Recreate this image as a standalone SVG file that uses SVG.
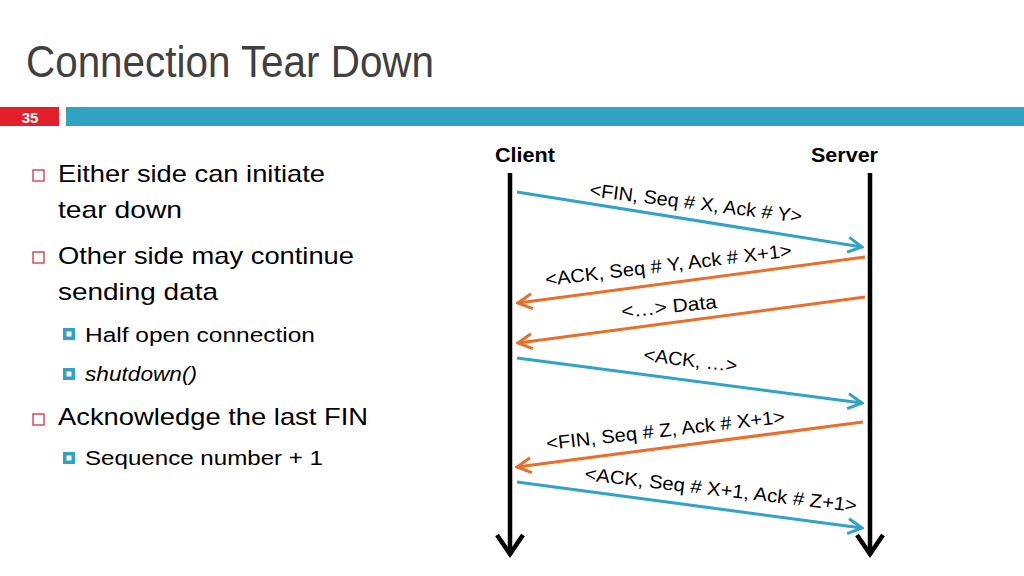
<svg xmlns="http://www.w3.org/2000/svg" width="1024" height="576" viewBox="0 0 1024 576">
<style>
text{font-family:"Liberation Sans",Arial,sans-serif;}
.title{font-size:44px;fill:#404040;}
.b1{font-size:24px;fill:#000;}
.b2{font-size:20px;fill:#000;}
.hdr{font-size:20px;font-weight:bold;fill:#000;}
.lbl{font-size:19px;fill:#000;}
.life{stroke:#000;stroke-width:4.5;fill:none;}
.blue{stroke:#31A3C6;stroke-width:3;fill:none;}
.orange{stroke:#E8702A;stroke-width:3;fill:none;}
.sq1{fill:none;stroke:#D9303A;stroke-width:1.3;}
.sq2{fill:#2FA3C1;}
</style>
<defs>
<marker id="mb" markerUnits="userSpaceOnUse" viewBox="0 0 18 18" refX="16" refY="9" markerWidth="18" markerHeight="18" orient="auto">
<path d="M2,1.5 L16,9 L2,16.5" fill="none" stroke="#31A3C6" stroke-width="3" stroke-linejoin="miter"/>
</marker>
<marker id="mo" markerUnits="userSpaceOnUse" viewBox="0 0 18 18" refX="16" refY="9" markerWidth="18" markerHeight="18" orient="auto">
<path d="M2,1.5 L16,9 L2,16.5" fill="none" stroke="#E8702A" stroke-width="3" stroke-linejoin="miter"/>
</marker>
</defs>
<rect width="1024" height="576" fill="#fff"/>
<g id="header">
<text class="title" x="26" y="77" textLength="408" lengthAdjust="spacingAndGlyphs">Connection Tear Down</text>
<rect x="0" y="107" width="59" height="19" fill="#E2202C"/>
<rect x="66" y="107" width="958" height="19" fill="#2FA3C1"/>
<text x="30" y="122.5" font-size="15" font-weight="bold" fill="#fff" text-anchor="middle">35</text>
</g>
<g id="bullets">
<rect class="sq1" x="33" y="170" width="11" height="11"/>
<text class="b1" x="58" y="182" textLength="267" lengthAdjust="spacingAndGlyphs">Either side can initiate</text>
<text class="b1" x="58" y="218" textLength="124" lengthAdjust="spacingAndGlyphs">tear down</text>
<rect class="sq1" x="33" y="252" width="11" height="11"/>
<text class="b1" x="58" y="264" textLength="296" lengthAdjust="spacingAndGlyphs">Other side may continue</text>
<text class="b1" x="58" y="300" textLength="160" lengthAdjust="spacingAndGlyphs">sending data</text>
<rect class="sq2" x="63" y="328" width="12" height="12"/><rect x="66.5" y="331.5" width="5" height="5" fill="#fff"/>
<text class="b2" x="85" y="342" textLength="230" lengthAdjust="spacingAndGlyphs">Half open connection</text>
<rect class="sq2" x="63" y="368" width="12" height="12"/><rect x="66.5" y="371.5" width="5" height="5" fill="#fff"/>
<text class="b2" x="85" y="381" font-style="italic" textLength="112" lengthAdjust="spacingAndGlyphs">shutdown()</text>
<rect class="sq1" x="33" y="414" width="11" height="11"/>
<text class="b1" x="58" y="425" textLength="310" lengthAdjust="spacingAndGlyphs">Acknowledge the last FIN</text>
<rect class="sq2" x="63" y="452" width="12" height="12"/><rect x="66.5" y="455.5" width="5" height="5" fill="#fff"/>
<text class="b2" x="85" y="465" textLength="238" lengthAdjust="spacingAndGlyphs">Sequence number + 1</text>
</g>
<g id="client">
<text class="hdr" x="495" y="162" textLength="60" lengthAdjust="spacingAndGlyphs">Client</text>
<path class="life" d="M510,173 V555"/>
<path class="life" d="M497,535 L510,554 L523,535" stroke-width="5"/>
</g>
<g id="server">
<text class="hdr" x="811" y="162" textLength="67" lengthAdjust="spacingAndGlyphs">Server</text>
<path class="life" d="M870,173 V555"/>
<path class="life" d="M857,535 L870,554 L883,535" stroke-width="5"/>
</g>
<g id="connectors">
<line class="blue" x1="517" y1="192" x2="862" y2="247" marker-end="url(#mb)"/>
<line class="orange" x1="865" y1="257" x2="518" y2="303" marker-end="url(#mo)"/>
<line class="orange" x1="865" y1="297" x2="518" y2="343" marker-end="url(#mo)"/>
<line class="blue" x1="517" y1="358" x2="862" y2="403" marker-end="url(#mb)"/>
<line class="orange" x1="863" y1="422" x2="517" y2="467" marker-end="url(#mo)"/>
<line class="blue" x1="517" y1="482" x2="862" y2="528" marker-end="url(#mb)"/>
</g>
<g id="labels">
<text class="lbl" transform="translate(589,196) rotate(7.2)" textLength="214" lengthAdjust="spacingAndGlyphs">&lt;FIN, Seq # X, Ack # Y&gt;</text>
<text class="lbl" transform="translate(546,286) rotate(-6.8)" textLength="248" lengthAdjust="spacingAndGlyphs">&lt;ACK, Seq # Y, Ack # X+1&gt;</text>
<text class="lbl" transform="translate(622,318) rotate(-6)" textLength="96" lengthAdjust="spacingAndGlyphs">&lt;…&gt; Data</text>
<text class="lbl" transform="translate(643,361) rotate(6.8)" textLength="94" lengthAdjust="spacingAndGlyphs">&lt;ACK, …&gt;</text>
<text class="lbl" transform="translate(547,450) rotate(-6.5)" textLength="240" lengthAdjust="spacingAndGlyphs">&lt;FIN, Seq # Z, Ack # X+1&gt;</text>
<text class="lbl" transform="translate(584,480) rotate(6.7)" textLength="274" lengthAdjust="spacingAndGlyphs">&lt;ACK, Seq # X+1, Ack # Z+1&gt;</text>
</g>
</svg>
